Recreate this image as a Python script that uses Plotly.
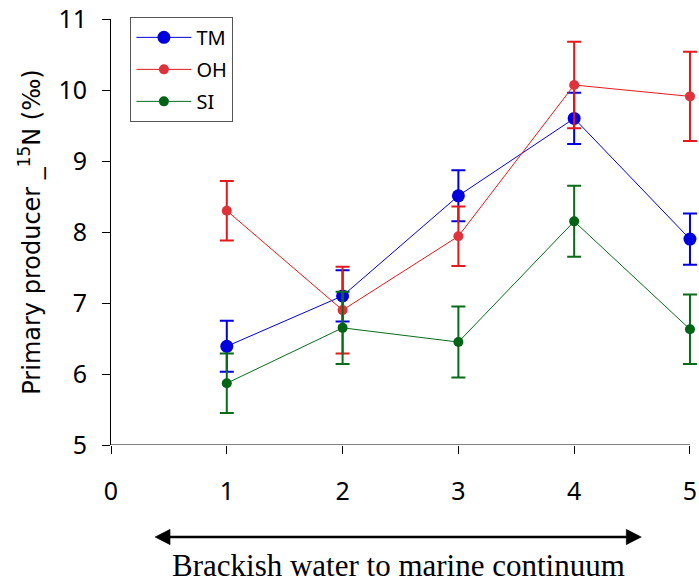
import plotly.graph_objects as go

# ---- data ----
sites = [1, 2, 3, 4, 5]
x_ticks = [0, 1, 2, 3, 4, 5]
y_ticks = [5, 6, 7, 8, 9, 10, 11]

tm = [6.39, 7.10, 8.51, 9.60, 7.90]
tm_err = [0.36, 0.36, 0.36, 0.36, 0.36]
oh = [8.30, 6.90, 7.94, 10.07, 9.91]
oh_err = [0.42, 0.61, 0.42, 0.61, 0.63]
si = [5.87, 6.65, 6.45, 8.15, 6.63]
si_err = [0.42, 0.51, 0.50, 0.50, 0.49]

series = [
    ("TM", tm, tm_err, "#0000dd", "#0000dd", 13),
    ("OH", oh, oh_err, "#e31a1c", "#e0323a", 10),
    ("SI", si, si_err, "#0a6b1a", "#006414", 10),
]

X_MIN, X_MAX = 0, 5
# plot area extends a few px past x=5 so the last error-bar caps are not clipped
X_RANGE_MAX = 5.078

fig = go.Figure()
for name, vals, errs, lc, mc, ms in series:
    fig.add_trace(go.Scatter(
        x=sites, y=vals, name=name, mode="lines+markers",
        legendgroup=name,
        line=dict(color=lc, width=1),
        marker=dict(color=mc, size=ms),
        error_y=dict(type="data", array=errs, visible=True,
                     color=lc, thickness=2, width=7),
        cliponaxis=False,
    ))

SANS = "Noto Sans"
fig.update_layout(
    width=699, height=585,
    margin=dict(l=111, r=0, t=19, b=140, autoexpand=False),
    paper_bgcolor="white", plot_bgcolor="white",
    font=dict(family=SANS, color="black", size=22),
    showlegend=True,
    legend=dict(
        x=0.033, y=1.005, xanchor="left", yanchor="top",
        bordercolor="#555555", borderwidth=1, bgcolor="white",
        font=dict(family=SANS, size=20),
        itemwidth=55, tracegroupgap=3,
    ),
    xaxis=dict(
        range=[X_MIN, X_RANGE_MAX], tickmode="array", tickvals=x_ticks,
        ticks="outside", ticklen=8, tickcolor="black",
        showline=False,
        showgrid=False, zeroline=False, automargin=False,
        tickfont=dict(family=SANS, size=25),
        ticklabelstandoff=16,
    ),
    yaxis=dict(
        range=[5, 11], tickmode="array", tickvals=y_ticks,
        ticks="outside", ticklen=8, tickcolor="black",
        showline=True, linecolor="black", linewidth=1,
        showgrid=False, zeroline=False, automargin=False,
        tickfont=dict(family=SANS, size=25),
        ticklabelstandoff=10,
        title=dict(text="Primary producer _<sup>15</sup>N (‰)",
                   font=dict(family="DejaVu Sans", size=24), standoff=10),
    ),
)

# x-axis baseline from 0 to 5 only
fig.add_shape(type="line", xref="x", yref="y", x0=X_MIN, x1=X_MAX,
              y0=5, y1=5, line=dict(color="black", width=1), layer="below")

# bottom double-headed arrow (data x, paper y)
y_arrow = -0.216
x_left, x_right = 0.38, 4.58
head_w = 0.13   # in data units (~15px)
head_h = 0.018  # in paper units (~7.5px half height)
fig.add_shape(type="line", xref="x", yref="paper",
              x0=x_left + head_w * 0.8, x1=x_right - head_w * 0.8,
              y0=y_arrow, y1=y_arrow,
              line=dict(color="black", width=2.5))
fig.add_shape(type="path", xref="x", yref="paper",
              path=f"M {x_left} {y_arrow} L {x_left + head_w} {y_arrow + head_h} "
                   f"L {x_left + head_w} {y_arrow - head_h} Z",
              fillcolor="black", line=dict(color="black", width=0.5))
fig.add_shape(type="path", xref="x", yref="paper",
              path=f"M {x_right} {y_arrow} L {x_right - head_w} {y_arrow + head_h} "
                   f"L {x_right - head_w} {y_arrow - head_h} Z",
              fillcolor="black", line=dict(color="black", width=0.5))

fig.add_annotation(text="Brackish water to marine continuum",
                   xref="x", yref="paper", x=2.48, y=-0.284,
                   xanchor="center", yanchor="middle", showarrow=False,
                   font=dict(family="Liberation Serif", size=31, color="black"))

fig.write_html("out.html")
